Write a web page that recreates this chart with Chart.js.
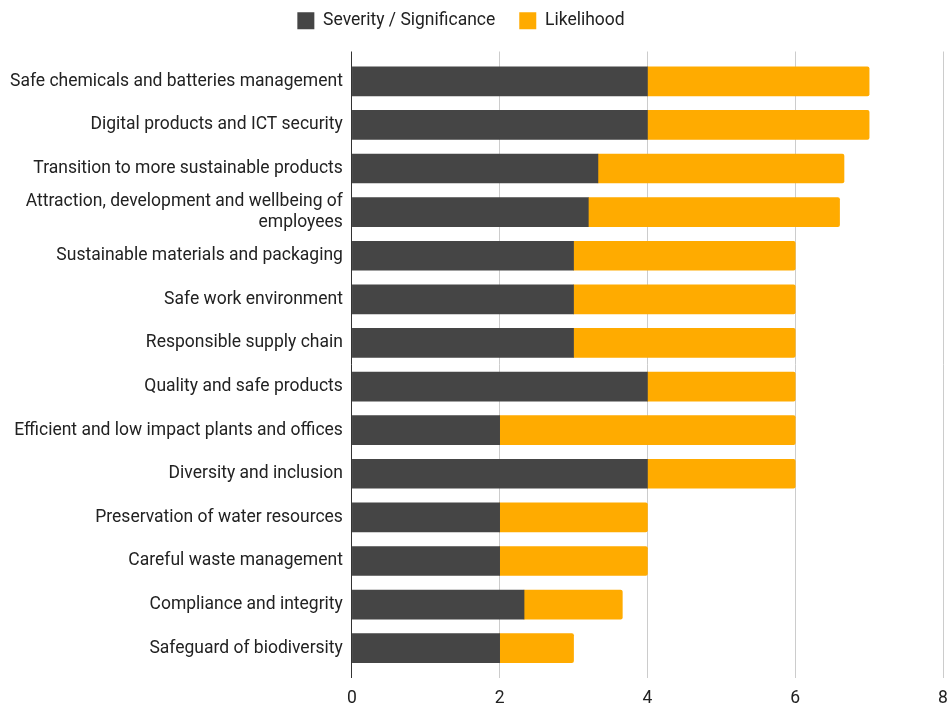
<!DOCTYPE html>
<html>
<head>
<meta charset="utf-8">
<title>Material topics</title>
<script src="https://cdn.jsdelivr.net/npm/chart.js@4.4.1/dist/chart.umd.min.js"></script>
<style>
  html, body { margin: 0; padding: 0; background: #fff; }
  #wrap { width: 949px; height: 705px; position: relative; }
</style>
</head>
<body>
<div id="wrap"><canvas id="chart"></canvas></div>
<script>
// topics, top to bottom
const topics = [
  "Safe chemicals and batteries management",
  "Digital products and ICT security",
  "Transition to more sustainable products",
  ["Attraction, development and wellbeing of", "employees"],
  "Sustainable materials and packaging",
  "Safe work environment",
  "Responsible supply chain",
  "Quality and safe products",
  "Efficient and low impact plants and offices",
  "Diversity and inclusion",
  "Preservation of water resources",
  "Careful waste management",
  "Compliance and integrity",
  "Safeguard of biodiversity",
];

const severity = [4, 4, 3.33, 3.2, 3, 3, 3, 4, 2, 4, 2, 2, 2.33, 2];
const likelihood = [3, 3, 3.33, 3.4, 3, 3, 3, 2, 4, 2, 2, 2, 1.33, 1];

const seriesNames = ["Severity / Significance", "Likelihood"];

const textColor = "#222";
const font = { family: "Roboto", size: 17.5, lineHeight: 1.2 };

// vertical grid: zero line dark, others light grey
const gridColor = (ctx) => (ctx.tick && ctx.tick.value === 0 ? "#333" : "#ccc");

// let the last value label hang over the right edge a bit
const trimSidePadding = (scale) => {
  scale.paddingLeft = 0;
  scale.paddingRight = 6;
};

// nudge the legend row a little to the left
const legendShift = {
  id: "legendShift",
  afterLayout(chart) {
    if (chart.legend) {
      chart.legend.left -= 18;
      chart.legend.right -= 18;
    }
  },
};

new Chart(document.getElementById("chart"), {
  type: "bar",
  data: {
    labels: topics,
    datasets: [
      {
        label: seriesNames[0],
        data: severity,
        backgroundColor: "#454545",
        borderWidth: 0,
        barThickness: 29,
      },
      {
        label: seriesNames[1],
        data: likelihood,
        backgroundColor: "#ffab00",
        borderWidth: 0,
        borderRadius: 2,
        barThickness: 29,
      },
    ],
  },
  options: {
    indexAxis: "y",
    responsive: true,
    maintainAspectRatio: false,
    animation: false,
    layout: { padding: { left: 9, right: 0, top: -12, bottom: 0 } },
    scales: {
      x: {
        stacked: true,
        min: 0,
        max: 8,
        ticks: { stepSize: 2, color: textColor, font: font, padding: 10 },
        grid: { color: gridColor, lineWidth: 1, drawTicks: true, tickLength: 8 },
        border: { display: false },
        afterFit: (scale) => {
          scale.height = 35;
          trimSidePadding(scale);
        },
      },
      // top copy of the value axis, only for the short grid stubs above the bars
      x2: {
        position: "top",
        min: 0,
        max: 8,
        ticks: { stepSize: 2, display: false },
        grid: { color: gridColor, drawOnChartArea: false, drawTicks: true, tickLength: 8 },
        border: { display: false },
        afterFit: (scale) => {
          scale.height = 20;
          trimSidePadding(scale);
        },
      },
      y: {
        stacked: true,
        ticks: { color: textColor, font: font, padding: 1, autoSkip: false },
        grid: { display: false },
        border: { display: false },
        afterFit: (scale) => {
          scale.paddingTop = 0;
          scale.paddingBottom = 0;
        },
      },
    },
    plugins: {
      legend: {
        position: "top",
        labels: {
          color: textColor,
          font: font,
          boxWidth: 17,
          boxHeight: 17,
          padding: 24,
        },
      },
      tooltip: { enabled: false },
    },
  },
  plugins: [legendShift],
});
</script>
</body>
</html>
